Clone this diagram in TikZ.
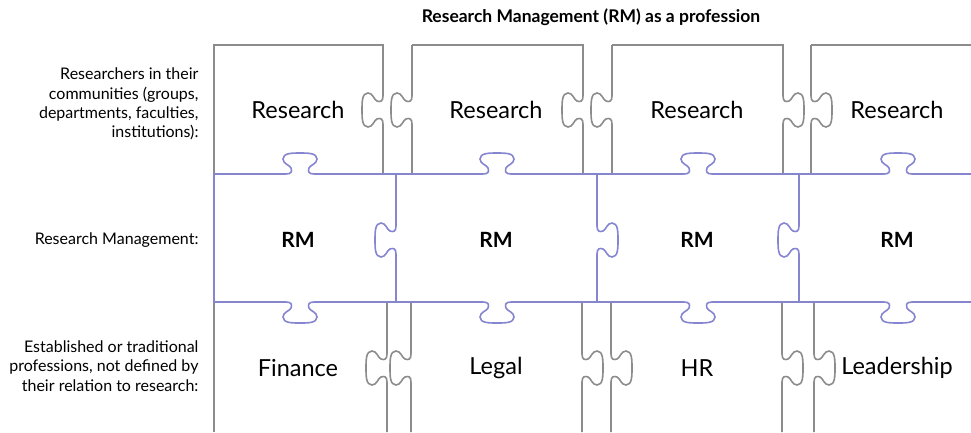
\documentclass[tikz,border=0pt]{standalone}
\usepackage{fontspec}
\setmainfont{Lato}
\usepackage{tikz}
\usetikzlibrary{positioning}
\definecolor{rmgray}{HTML}{8C8C8C}
\definecolor{rmblue}{HTML}{8585D0}

% jigsaw knob on a vertical edge (drawn top to bottom): x, y of centre, side (+1 right, -1 left)
\tikzset{
  vtab/.style n args={3}{insert path={
    -- (#1,{#2-14})
    .. controls (#1,{#2-8}) and ({#1+(#3)*3},{#2-8}) .. ({#1+(#3)*6},{#2-9})
    .. controls ({#1+(#3)*9},{#2-10}) and ({#1+(#3)*10},{#2-17}) .. ({#1+(#3)*15},{#2-17})
    .. controls ({#1+(#3)*21},{#2-17}) and ({#1+(#3)*21},{#2-8}) .. ({#1+(#3)*21},#2)
    .. controls ({#1+(#3)*21},{#2+8}) and ({#1+(#3)*21},{#2+17}) .. ({#1+(#3)*15},{#2+17})
    .. controls ({#1+(#3)*10},{#2+17}) and ({#1+(#3)*9},{#2+10}) .. ({#1+(#3)*6},{#2+9})
    .. controls ({#1+(#3)*3},{#2+8}) and (#1,{#2+8}) .. (#1,{#2+14})}},
  % same knob on a horizontal edge (drawn left to right): side +1 down, -1 up
  htab/.style n args={3}{insert path={
    -- ({#1-14},#2)
    .. controls ({#1-8},#2) and ({#1-8},{#2+(#3)*3}) .. ({#1-9},{#2+(#3)*6})
    .. controls ({#1-10},{#2+(#3)*9}) and ({#1-17},{#2+(#3)*10}) .. ({#1-17},{#2+(#3)*15})
    .. controls ({#1-17},{#2+(#3)*21}) and ({#1-8},{#2+(#3)*21}) .. (#1,{#2+(#3)*21})
    .. controls ({#1+8},{#2+(#3)*21}) and ({#1+17},{#2+(#3)*21}) .. ({#1+17},{#2+(#3)*15})
    .. controls ({#1+17},{#2+(#3)*10}) and ({#1+10},{#2+(#3)*9}) .. ({#1+9},{#2+(#3)*6})
    .. controls ({#1+8},{#2+(#3)*3}) and ({#1+8},#2) .. ({#1+14},#2)}},
}

\begin{document}
\begin{tikzpicture}[
    x=1pt, y=-1pt,
    piece/.style={draw=rmgray, line width=1.6pt},
    rmpiece/.style={draw=rmblue, line width=1.6pt},
    word/.style={font=\fontsize{23.5}{26}\selectfont},
    rmword/.style={font=\fontsize{21}{24}\selectfont\bfseries},
    rowlabel/.style={anchor=east, align=right, font=\fontsize{16}{19.2}\selectfont}
  ]
  \useasboundingbox (0,0) rectangle (971,432);

  % researchers row
  \draw[piece] (214,174) -- (214,45) -- (383,45) [vtab={383}{110}{-1}] -- (383,174);
  \draw[piece] (412,45) [vtab={412}{110}{-1}] -- (412,174);
  \draw[piece] (412,45) -- (583,45) [vtab={583}{110}{-1}] -- (583,174);
  \draw[piece] (612,45) [vtab={612}{110}{-1}] -- (612,174);
  \draw[piece] (612,45) -- (783,45) [vtab={783}{110}{1}] -- (783,174);
  \draw[piece] (811,45) [vtab={811}{110}{1}] -- (811,174);
  \draw[piece] (811,45) -- (971,45);

  % established professions row
  \draw[piece] (214,302) -- (214,432);
  \draw[piece] (387,302) [vtab={387}{368}{-1}] -- (387,432);
  \draw[piece] (411,302) [vtab={411}{368}{-1}] -- (411,432);
  \draw[piece] (582,302) [vtab={582}{368}{1}] -- (582,432);
  \draw[piece] (611,302) [vtab={611}{368}{1}] -- (611,432);
  \draw[piece] (782,302) [vtab={782}{368}{1}] -- (782,432);
  \draw[piece] (814,302) [vtab={814}{368}{1}] -- (814,432);

  % research management row
  \draw[rmpiece] (214,174) [htab={300}{174}{-1}] [htab={497}{174}{-1}]
    [htab={698}{174}{-1}] [htab={898}{174}{-1}] -- (971,174);
  \draw[rmpiece] (214,302) [htab={300}{302}{1}] [htab={497}{302}{1}]
    [htab={698}{302}{1}] [htab={898}{302}{1}] -- (971,302);
  \draw[rmpiece] (214,174) -- (214,302);
  \draw[rmpiece] (396,174) [vtab={396}{240}{-1}] -- (396,302);
  \draw[rmpiece] (597,174) [vtab={597}{240}{1}] -- (597,302);
  \draw[rmpiece] (799,174) [vtab={799}{240}{-1}] -- (799,302);

  \node[font=\fontsize{17.5}{20}\selectfont\bfseries] (title) at (591,17) {Research Management (RM) as a profession};

  \node[word] (res1) at (298,110) {Research};
  \node[word] (res2) at (496,110) {Research};
  \node[word] (res3) at (697,110) {Research};
  \node[word] (res4) at (897,110) {Research};

  \node[rmword] (rm1) at (298,240) {RM};
  \node[rmword] (rm2) at (496,240) {RM};
  \node[rmword] (rm3) at (697,240) {RM};
  \node[rmword] (rm4) at (897,240) {RM};

  \node[word] (fin) at (298,368) {Finance};
  \node[word] (legal) at (496,368) {Legal};
  \node[word] (hr) at (697,368) {HR};
  \node[word] (lead) at (897,368) {Leadership};

  \node[rowlabel] (lab1) at (202,104) {Researchers in their\\communities (groups,\\departments, faculties,\\institutions):};
  \node[rowlabel] (lab2) at (202,240) {Research Management:};
  \node[rowlabel] (lab3) at (202,366) {Established or traditional\\professions, not defined by\\their relation to research:};
\end{tikzpicture}
\end{document}
